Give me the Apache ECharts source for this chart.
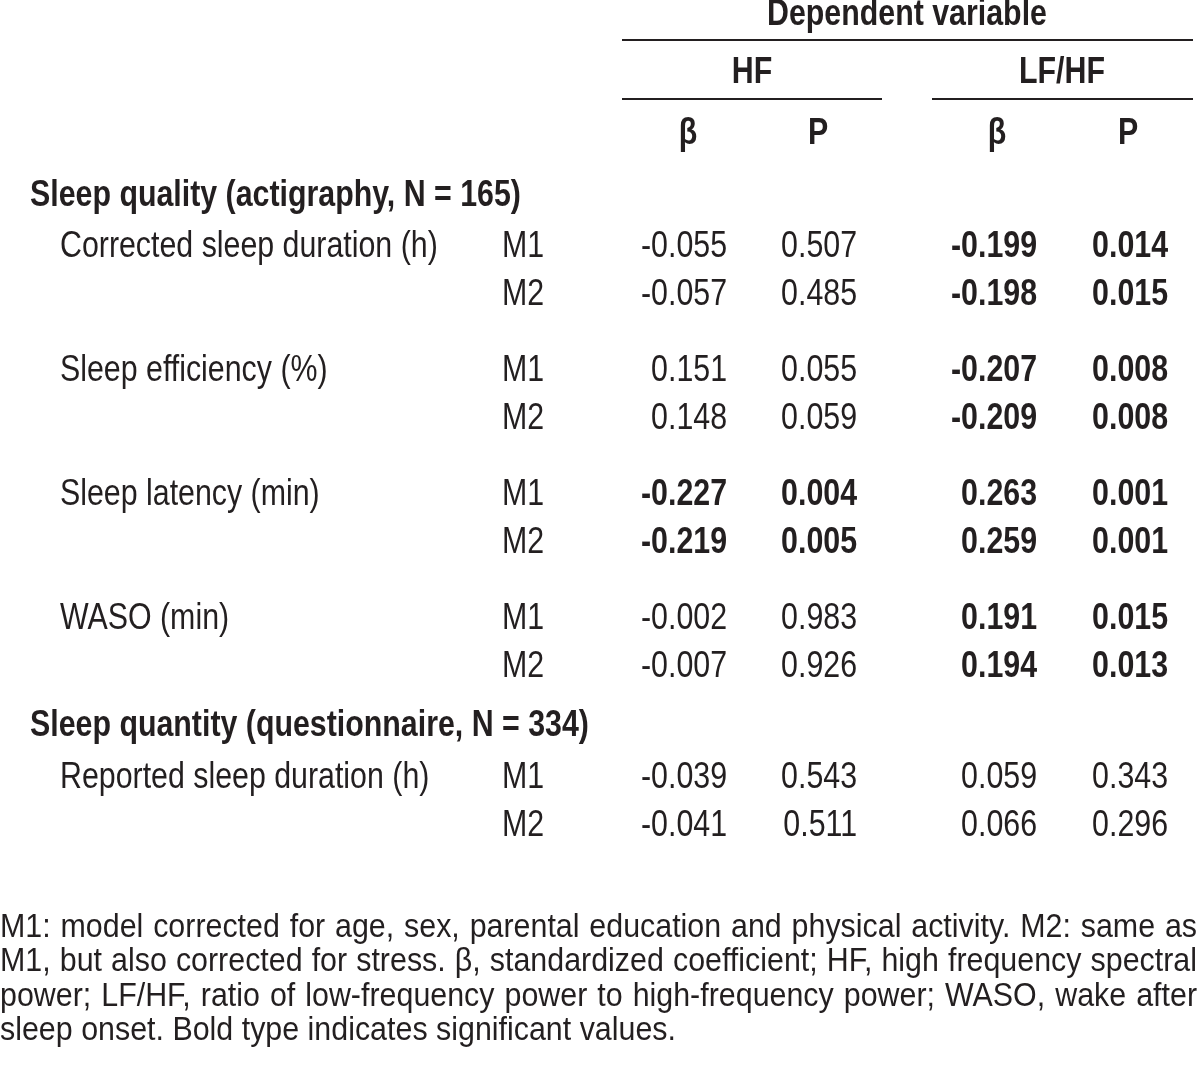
<!DOCTYPE html>
<html><head><meta charset="utf-8">
<script src="https://cdn.jsdelivr.net/npm/echarts@6/dist/echarts.min.js"></script>
<style>html,body{margin:0;padding:0;background:#fff}#c{width:1200px;height:1080px}</style>
</head><body><div id="c"></div>
<script>
// ---- data ----
const headerTop = 'Dependent variable';
const groups = ['HF', 'LF/HF'];
const statLabels = ['β', 'P'];
const sections = ['Sleep quality (actigraphy, N = 165)', 'Sleep quantity (questionnaire, N = 334)'];
const measures = ['Corrected sleep duration (h)', 'Sleep efficiency (%)', 'Sleep latency (min)', 'WASO (min)', 'Reported sleep duration (h)'];
const models = ['M1', 'M2'];
const hfBeta = [[-0.055, -0.057], [0.151, 0.148], [-0.227, -0.219], [-0.002, -0.007], [-0.039, -0.041]];
const hfP = [[0.507, 0.485], [0.055, 0.059], [0.004, 0.005], [0.983, 0.926], [0.543, 0.511]];
const lfhfBeta = [[-0.199, -0.198], [-0.207, -0.209], [0.263, 0.259], [0.191, 0.194], [0.059, 0.066]];
const lfhfP = [[0.014, 0.015], [0.008, 0.008], [0.001, 0.001], [0.015, 0.013], [0.343, 0.296]];
const footnote = [
  'M1: model corrected for age, sex, parental education and physical activity. M2: same as',
  'M1, but also corrected for stress. β, standardized coefficient; HF, high frequency spectral',
  'power; LF/HF, ratio of low-frequency power to high-frequency power; WASO, wake after',
  'sleep onset. Bold type indicates significant values.'
];

// ---- layout ----
const FONT = '"Liberation Sans", Arial, sans-serif';
const COLOR = '#231f20';
const FS = 37;
const NARROW = 0.82;
const measureCtx = document.createElement('canvas').getContext('2d');
function measure(s, font) { measureCtx.font = font; return measureCtx.measureText(s).width; }
const els = [];
function fontOf(opt) { return (opt.bold ? 'bold ' : '') + (opt.size || FS) + 'px ' + FONT; }
function txt(x, y, s, opt) {
  opt = opt || {};
  els.push({type: 'text', x: x, y: y, scaleX: opt.scaleX || NARROW, style: {
    text: s, fill: COLOR, font: fontOf(opt),
    textAlign: opt.align || 'left', textVerticalAlign: 'middle'
  }});
}
function line(x1, x2, y) {
  els.push({type: 'line', shape: {x1: x1, y1: y, x2: x2, y2: y}, style: {stroke: COLOR, lineWidth: 2}});
}
// header
txt(907, 15, headerTop, {bold: true, align: 'center'});
line(622, 1193, 40);
const groupCenters = [752, 1062];
const groupSpans = [[622, 882], [932, 1193]];
groups.forEach((g, i) => {
  txt(groupCenters[i], 73, g, {bold: true, align: 'center'});
  line(groupSpans[i][0], groupSpans[i][1], 99);
});
const statCenters = [688, 818, 997, 1128];
statCenters.forEach((cx, i) => txt(cx, 134, statLabels[i % 2], {bold: true, align: 'center'}));

// body rows
const valRight = [727, 857, 1037, 1168];
const cols = [hfBeta, hfP, lfhfBeta, lfhfP];
const pCols = [hfP, hfP, lfhfP, lfhfP];
const sectionY = [196, 726];
const measureY = [247, 371, 495, 619, 778];
const rowStep = 48;
sections.forEach((s, i) => txt(30, sectionY[i], s, {bold: true}));
measures.forEach((m, i) => {
  const y0 = measureY[i];
  txt(60, y0, m);
  models.forEach((md, j) => {
    const y = y0 + j * rowStep;
    txt(502, y, md);
    cols.forEach((arr, c) => {
      const v = arr[i][j];
      const sig = pCols[c][i][j] < 0.05;
      txt(valRight[c], y, v.toFixed(3), {bold: sig, align: 'right'});
    });
  });
});
// footnote: justified paragraph (last line ragged)
const FOOT = {size: 33};
const footFont = fontOf(FOOT);
const lastLine = footnote[footnote.length - 1];
const footScale = 676 / measure(lastLine, footFont);
const footWidth = 1197;
footnote.forEach((l, i) => {
  const y = 928 + i * 34.3;
  if (i === footnote.length - 1) {
    txt(0, y, l, {size: FOOT.size, scaleX: footScale});
    return;
  }
  const words = l.split(' ');
  const widths = words.map(w => measure(w, footFont) * footScale);
  const total = widths.reduce((a, b) => a + b, 0);
  const gap = (footWidth - total) / (words.length - 1);
  let x = 0;
  words.forEach((w, k) => {
    txt(x, y, w, {size: FOOT.size, scaleX: footScale});
    x += widths[k] + gap;
  });
});

const chart = echarts.init(document.getElementById('c'), null, {renderer: 'canvas'});
chart.setOption({animation: false, graphic: {elements: els}});
</script></body></html>
